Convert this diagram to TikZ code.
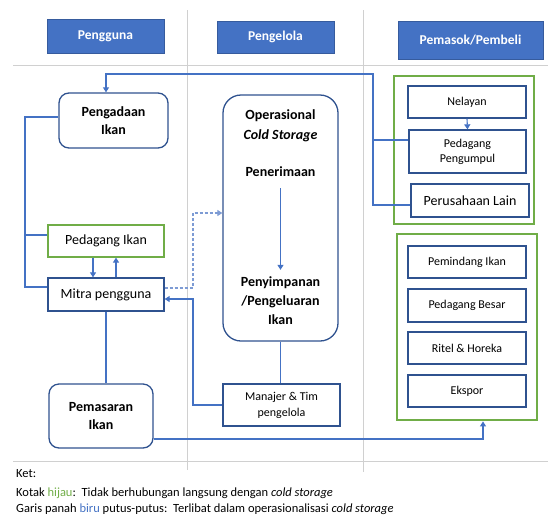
\documentclass[tikz,border=0pt]{standalone}
\usepackage{fontspec}
\setmainfont{Carlito}
\usetikzlibrary{arrows.meta}
\definecolor{hdr}{RGB}{68,114,196}
\definecolor{bdr}{RGB}{47,82,143}
\definecolor{grn}{RGB}{112,173,71}
\definecolor{lnc}{RGB}{68,114,196}
\definecolor{grd}{RGB}{208,208,208}
\definecolor{dsh}{RGB}{125,155,212}
\begin{document}
\begin{tikzpicture}[x=1pt,y=-1pt,
  hdrbox/.style={fill=hdr, draw=hdr!80!black, line width=0.8pt, text=white, font=\fontsize{13.5}{15}\selectfont\bfseries, inner sep=0pt},
  rbox/.style={draw=bdr, line width=1.3pt, rounded corners=10pt, align=center, font=\fontsize{14}{18}\selectfont\bfseries, inner sep=0pt},
  sbox/.style={draw=bdr, line width=1.3pt, align=center, inner sep=0pt, font=\fontsize{12}{15}\selectfont},
  mbox/.style={sbox, font=\fontsize{14}{16}\selectfont},
  gbox/.style={draw=grn, line width=2.8pt, inner sep=0pt},
  optext/.style={align=center, inner sep=0pt, font=\fontsize{14}{20}\selectfont\bfseries},
  ln/.style={draw=lnc, line width=1.1pt},
  dln/.style={draw=dsh, line width=1.4pt, dash pattern=on 3pt off 2pt},
  tip/.style={-{Triangle[length=5pt,width=6pt]}},
  gridline/.style={draw=grd, line width=0.8pt},
  legend/.style={anchor=base west, inner sep=0pt, font=\fontsize{12.5}{14}\selectfont},
]
\useasboundingbox (0,0) rectangle (548,515);
% grid
\draw[gridline] (13,65) -- (548,65);
\draw[gridline] (13,461) -- (548,461);
\draw[gridline] (187,10) -- (187,470);
\draw[gridline] (363,10) -- (363,472);
% headers
\node[hdrbox, minimum width=117pt, minimum height=34pt] (hpeng) at (105.5,36) {Pengguna};
\node[hdrbox, minimum width=117pt, minimum height=32pt] (hpgl) at (275.5,37) {Pengelola};
\node[hdrbox, minimum width=145pt, minimum height=38pt] (hpem) at (470.5,40) {Pemasok/Pembeli};
% Pengguna column
\node[rbox, minimum width=109pt, minimum height=55pt] (pengad) at (113.5,120.5) {Pengadaan\\Ikan};
\node[mbox, draw=grn, line width=1.2pt, minimum width=116pt, minimum height=32pt] (pedikan) at (106,241) {Pedagang Ikan};
\node[mbox, minimum width=116pt, minimum height=33pt] (mitra) at (106,294.5) {Mitra pengguna};
\node[rbox, minimum width=104pt, minimum height=64pt] (pemas) at (101,416) {Pemasaran\\Ikan};
% Pengelola column
\node[rbox, rounded corners=18pt, minimum width=115pt, minimum height=246pt] (ops) at (280.5,218) {};
\node[optext] (opst) at (280.5,126) {Operasional\\\textit{Cold Storage}};
\node[optext] (pener) at (280.5,172) {Penerimaan};
\node[optext, font=\fontsize{14}{19}\selectfont\bfseries] (penyim) at (280.5,301) {Penyimpanan\\/Pengeluaran\\Ikan};
\node[sbox, minimum width=117pt, minimum height=42pt, font=\fontsize{12}{16}\selectfont] (manaj) at (281.5,405) {Manajer \& Tim\\pengelola};
% Pemasok column
\node[gbox, minimum width=140pt, minimum height=148pt] (g1) at (464,150) {};
\node[sbox, minimum width=118pt, minimum height=32pt] (nel) at (467,102) {Nelayan};
\node[sbox, minimum width=117pt, minimum height=43pt] (pedpeng) at (467.5,151.5) {Pedagang\\Pengumpul};
\node[mbox, minimum width=118pt, minimum height=33pt] (perus) at (470,200.5) {Perusahaan Lain};
\node[gbox, minimum width=140pt, minimum height=186pt] (g2) at (467,327) {};
\node[sbox, minimum width=118pt, minimum height=32pt] (pemind) at (467,262) {Pemindang Ikan};
\node[sbox, minimum width=118pt, minimum height=33pt] (pedbes) at (467,305.5) {Pedagang Besar};
\node[sbox, minimum width=118pt, minimum height=32pt] (ritel) at (467,348) {Ritel \& Horeka};
\node[sbox, minimum width=118pt, minimum height=32pt] (ekspor) at (467,391) {Ekspor};
% connectors
\draw[ln,tip] (perus.west |- 0,205) -| (373,74) -| ([xshift=-7.5pt]pengad.north);
\draw[ln] (373,140) -- (pedpeng.west |- 0,140);
\draw[ln] (pengad.west |- 0,117) -| (25,287) -- (mitra.west |- 0,287);
\draw[ln] (25,235) -- (pedikan.west |- 0,235);
\draw[ln,tip] (pedikan.south -| 93,0) -- (mitra.north -| 93,0);
\draw[ln,tip] (mitra.north -| 116,0) -- (pedikan.south -| 116,0);
\draw[dln,tip] (mitra.east |- 0,288) -| (193,213) -- (ops.west |- 0,213);
\draw[ln,tip] (manaj.west) -| (193,299) -- (mitra.east |- 0,299);
\draw[ln] (mitra.south) -- (mitra.south |- pemas.north);
\draw[ln] (ops.south) -- (ops.south |- manaj.north);
\draw[ln,tip] (pemas.east |- 0,439) -| (g2.south -| 483,0);
\draw[ln,tip] (nel.south) -- (pedpeng.north);
\draw[ln,tip,shorten <=11pt,shorten >=7pt] (pener.south) -- (penyim.north);
% legend
\node[legend] (ket) at (16,477) {Ket:};
\node[legend] (k1) at (16,496) {Kotak \textcolor{grn}{hijau}:\ \ Tidak berhubungan langsung dengan \textit{cold storage}};
\node[legend] (k2) at (16,512) {Garis panah \textcolor{lnc}{biru} putus-putus:\ \ Terlibat dalam operasionalisasi \textit{cold storage}};
\end{tikzpicture}
\end{document}
